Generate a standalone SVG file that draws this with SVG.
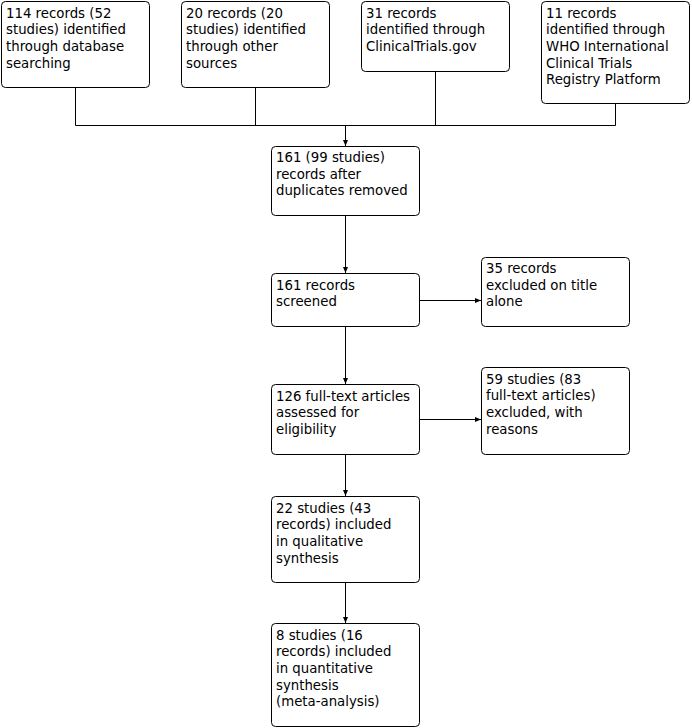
<svg xmlns="http://www.w3.org/2000/svg" width="692" height="728" viewBox="0 0 692 728">
<defs>
<style>
.box rect{fill:#fff;stroke:#000;stroke-width:1}
.box text{font-family:"DejaVu Sans",Verdana,sans-serif;font-size:13.3px;fill:#000}
.conn line,.conn polyline{stroke:#000;stroke-width:1;fill:none}
.arr{marker-end:url(#ah)}
</style>
<marker id="ah" markerUnits="userSpaceOnUse" markerWidth="7" markerHeight="6" refX="6" refY="3" orient="auto">
<path d="M0,0.5 L6,3 L0,5.5 z" fill="#000"/>
</marker>
</defs>
<rect width="692" height="728" fill="#fff"/>
<g class="conn">
<polyline points="75.5,87 75.5,125.5 615.5,125.5 615.5,103"/>
<line x1="255.5" y1="87" x2="255.5" y2="125.5"/>
<line x1="435.5" y1="71" x2="435.5" y2="125.5"/>
<line class="arr" x1="345.5" y1="125.5" x2="345.5" y2="146"/>
<line class="arr" x1="345.5" y1="215" x2="345.5" y2="273"/>
<line class="arr" x1="345.5" y1="326" x2="345.5" y2="384"/>
<line class="arr" x1="345.5" y1="454" x2="345.5" y2="496"/>
<line class="arr" x1="345.5" y1="582" x2="345.5" y2="623"/>
<line class="arr" x1="420" y1="300.5" x2="481" y2="300.5"/>
<line class="arr" x1="420" y1="419.5" x2="481" y2="419.5"/>
</g>
<g id="n1" class="box"><rect x="1.5" y="1.5" width="148" height="86" rx="4"/>
<text x="6" y="17.5">114 records (52</text><text x="6" y="34.2">studies) identified</text><text x="6" y="50.9">through database</text><text x="6" y="67.6">searching</text></g>
<g id="n2" class="box"><rect x="181.5" y="1.5" width="148" height="86" rx="4"/>
<text x="186" y="17.5">20 records (20</text><text x="186" y="34.2">studies) identified</text><text x="186" y="50.9">through other</text><text x="186" y="67.6">sources</text></g>
<g id="n3" class="box"><rect x="361.5" y="1.5" width="148" height="70" rx="4"/>
<text x="366" y="17.5">31 records</text><text x="366" y="34.2">identified through</text><text x="366" y="50.9">ClinicalTrials.gov</text></g>
<g id="n4" class="box"><rect x="541.5" y="1.5" width="148" height="102" rx="4"/>
<text x="546" y="17.5">11 records</text><text x="546" y="34.2">identified through</text><text x="546" y="50.9">WHO International</text><text x="546" y="67.6">Clinical Trials</text><text x="546" y="84.3">Registry Platform</text></g>
<g id="n5" class="box"><rect x="271.5" y="146.5" width="148" height="69" rx="4"/>
<text x="276" y="162">161 (99 studies)</text><text x="276" y="178.7">records after</text><text x="276" y="195.4">duplicates removed</text></g>
<g id="n6" class="box"><rect x="271.5" y="273.5" width="148" height="53" rx="4"/>
<text x="276" y="289.5">161 records</text><text x="276" y="306.2">screened</text></g>
<g id="n7" class="box"><rect x="481.5" y="257.5" width="148" height="69" rx="4"/>
<text x="486" y="273">35 records</text><text x="486" y="289.7">excluded on title</text><text x="486" y="306.4">alone</text></g>
<g id="n8" class="box"><rect x="271.5" y="384.5" width="148" height="70" rx="4"/>
<text x="276" y="400.5">126 full-text articles</text><text x="276" y="417.2">assessed for</text><text x="276" y="433.9">eligibility</text></g>
<g id="n9" class="box"><rect x="481.5" y="367.5" width="148" height="87" rx="4"/>
<text x="486" y="383.5">59 studies (83</text><text x="486" y="400.2">full-text articles)</text><text x="486" y="416.9">excluded, with</text><text x="486" y="433.6">reasons</text></g>
<g id="n10" class="box"><rect x="271.5" y="496.5" width="148" height="86" rx="4"/>
<text x="276" y="512.5">22 studies (43</text><text x="276" y="529.2">records) included</text><text x="276" y="545.9">in qualitative</text><text x="276" y="562.6">synthesis</text></g>
<g id="n11" class="box"><rect x="271.5" y="623.5" width="148" height="103" rx="4"/>
<text x="276" y="639.5">8 studies (16</text><text x="276" y="656.2">records) included</text><text x="276" y="672.9">in quantitative</text><text x="276" y="689.6">synthesis</text><text x="276" y="706.3">(meta-analysis)</text></g>
</svg>
